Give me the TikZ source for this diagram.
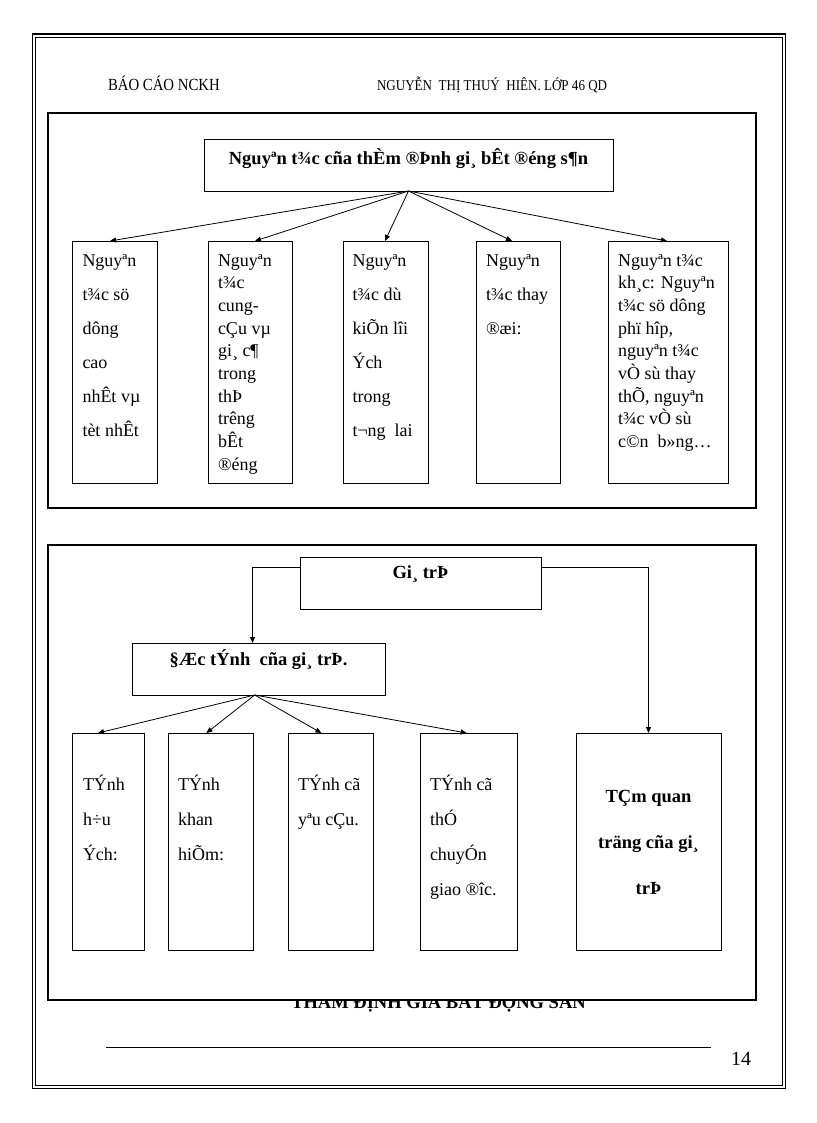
\documentclass[tikz,border=0pt]{standalone}
\usepackage{fontspec}
\setmainfont{Liberation Serif}
\newfontfamily\hdrfont[FakeStretch=0.87]{Liberation Serif}
\usetikzlibrary{arrows.meta,calc}
\begin{document}
\begin{tikzpicture}[x=1pt,y=-1pt,
  box/.style={draw, line width=0.9pt, inner sep=0pt, outer sep=0pt, anchor=north west, fill=white},
  frm/.style={draw, line width=1.2pt, inner sep=0pt, outer sep=0pt, anchor=north west, fill=white},
  arr/.style={line width=0.8pt, -{Triangle[length=6pt,width=5pt]}},
  txt/.style={anchor=base west, inner sep=0pt, outer sep=0pt, font=\fontsize{18}{34}\selectfont},
  txtn/.style={anchor=base west, inner sep=0pt, outer sep=0pt, font=\fontsize{18}{22.7}\selectfont},
  txtb/.style={anchor=base west, inner sep=0pt, outer sep=0pt, font=\fontsize{18}{35}\selectfont},
  ttl/.style={anchor=base, inner sep=0pt, outer sep=0pt, font=\bfseries\fontsize{18.5}{22}\selectfont},
  hdr/.style={anchor=base west, inner sep=0pt, outer sep=0pt},
]
\useasboundingbox (0,0) rectangle (816,1123);
\fill[white] (0,0) rectangle (816,1123);
% outer double frame
\draw[line width=1.5pt] (32.5,34) rectangle (785.5,1088.5);
\draw[line width=0.8pt] (35.5,37) rectangle (782.5,1085.5);
% header
\node[hdr, font=\hdrfont\fontsize{17}{20}\selectfont] (h1) at (108,91) {BÁO CÁO NCKH};
\node[hdr, font=\hdrfont\fontsize{15}{18}\selectfont] (h2) at (377,91) {NGUYỄN\ \ THỊ THUÝ\ \ HIÊN. LỚP 46 QD};
% footer title (partly hidden behind the lower frame)
\node[anchor=base, inner sep=0pt, font=\bfseries\fontsize{18.5}{22}\selectfont] (ft) at (438.5,1008) {THẨM ĐỊNH GIÁ BẤT ĐỘNG SẢN};
% frames
\node[frm, minimum width=708pt, minimum height=395pt] (F1) at (48,113) {};
\node[frm, minimum width=708pt, minimum height=455pt] (F2) at (48,545) {};
% footer rule and page number
\draw[line width=1.3pt] (106,1047.7) -- (710.7,1047.7);
\node[hdr, font=\fontsize{20}{22}\selectfont] (pg) at (731,1065) {14};

% ---------- top diagram ----------
\node[box, minimum width=409pt, minimum height=52pt] (T) at (204,139) {};
\node[ttl] (Tt) at ($(T.north)+(0,26)$) {Nguyªn t¾c cña thÈm ®Þnh gi¸ bÊt ®éng s¶n};

\node[box, minimum width=85pt, minimum height=242pt] (a1) at (72,241) {};
\node[box, minimum width=84pt, minimum height=242pt] (a2) at (208,241) {};
\node[box, minimum width=85pt, minimum height=242pt] (a3) at (343,241) {};
\node[box, minimum width=84pt, minimum height=242pt] (a4) at (476,241) {};
\node[box, minimum width=120pt, minimum height=242pt] (a5) at (608,241) {};

\node[txt] (a1t) at ($(a1.north west)+(10.5,25)$) {\parbox[t]{90pt}{\raggedright Nguyªn\\t¾c sö\\dông\\cao\\nhÊt vµ\\tèt nhÊt}};
\node[txtn] (a2t) at ($(a2.north west)+(10,25)$) {\parbox[t]{90pt}{\raggedright Nguyªn\\t¾c\\cung-\\cÇu vµ\\gi¸ c¶\\trong\\thÞ\\trêng\\bÊt\\®éng}};
\node[txt] (a3t) at ($(a3.north west)+(9.5,25)$) {\parbox[t]{90pt}{\raggedright Nguyªn\\t¾c dù\\kiÕn lîi\\Ých\\trong\\t¬ng\ \ lai}};
\node[txt] (a4t) at ($(a4.north west)+(10,25)$) {\parbox[t]{90pt}{\raggedright Nguyªn\\t¾c thay\\®æi:}};
\node[txtn] (a5t) at ($(a5.north west)+(10,25)$) {\parbox[t]{120pt}{\raggedright Nguyªn t¾c\\kh¸c: Nguyªn\\t¾c sö dông\\phï hîp,\\nguyªn t¾c\\vÒ sù thay\\thÕ, nguyªn\\t¾c vÒ sù\\c©n\ \ b»ng…}};

\draw[arr] (T.south) -- ($(a1.north west)+(38,0)$);
\draw[arr] (T.south) -- ($(a2.north west)+(47,0)$);
\draw[arr] (T.south) -- ($(a3.north west)+(42,0)$);
\draw[arr] (T.south) -- ($(a4.north west)+(36,0)$);
\draw[arr] (T.south) -- ($(a5.north west)+(59,0)$);

% ---------- bottom diagram ----------
\node[box, minimum width=241pt, minimum height=52pt] (G) at (300,557) {};
\node[ttl] (Gt) at ($(G.north)+(0,21)$) {Gi¸ trÞ};
\node[box, minimum width=253pt, minimum height=52pt] (D) at (132,643) {};
\node[ttl] (Dt) at ($(D.north)+(0,22)$) {§Æc tÝnh\ \ cña gi¸ trÞ.};

\node[box, minimum width=72pt, minimum height=217pt] (c1) at (72,733) {};
\node[box, minimum width=85pt, minimum height=217pt] (c2) at (168,733) {};
\node[box, minimum width=85pt, minimum height=217pt] (c3) at (288,733) {};
\node[box, minimum width=97pt, minimum height=217pt] (c4) at (420,733) {};
\node[box, minimum width=145pt, minimum height=217pt] (tq) at (576,733) {};

\node[txtb] (c1t) at ($(c1.north west)+(11,57)$) {\parbox[t]{80pt}{\raggedright TÝnh\\h÷u\\Ých:}};
\node[txtb] (c2t) at ($(c2.north west)+(10,57)$) {\parbox[t]{80pt}{\raggedright TÝnh\\khan\\hiÕm:}};
\node[txtb] (c3t) at ($(c3.north west)+(10,57)$) {\parbox[t]{80pt}{\raggedright TÝnh cã\\yªu cÇu.}};
\node[txtb] (c4t) at ($(c4.north west)+(10,57)$) {\parbox[t]{90pt}{\raggedright TÝnh cã\\thÓ\\chuyÓn\\giao ®îc.}};
\node[anchor=base, inner sep=0pt, font=\bfseries\fontsize{18.5}{46}\selectfont] (tqt) at ($(tq.north)+(0,69)$) {\parbox[t]{140pt}{\centering TÇm quan\\träng cña gi¸\\trÞ}};

\draw[arr] ($(G.north west)+(0,10)$) -| ($(D.north west)+(120.5,0)$);
\draw[arr] ($(G.north east)+(0,10)$) -| (tq.north);
\coordinate (Ds) at ($(D.south west)+(122.7,0)$);
\draw[arr] (Ds) -- ($(c1.north west)+(26,0)$);
\draw[arr] (Ds) -- ($(c2.north west)+(38.4,0)$);
\draw[arr] (Ds) -- ($(c3.north west)+(33.4,0)$);
\draw[arr] (Ds) -- ($(c4.north west)+(46.7,0)$);
\end{tikzpicture}
\end{document}
